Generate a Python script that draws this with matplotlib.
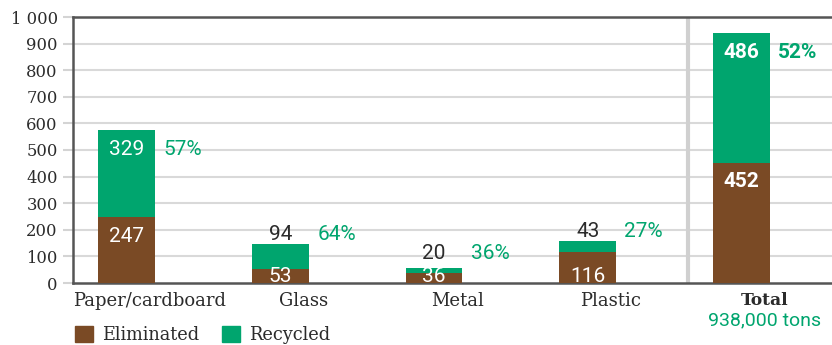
import matplotlib
matplotlib.use("Agg")
import matplotlib.pyplot as plt
import numpy as np
from matplotlib.patches import Patch

categories = ["Paper/cardboard", "Glass", "Metal", "Plastic", "Total"]
eliminated = [247, 53, 36, 116, 452]
recycled = [329, 94, 20, 43, 486]
pct_labels = ["57%", "64%", "36%", "27%", "52%"]
yticks = [0, 100, 200, 300, 400, 500, 600, 700, 800, 900, 1000]
ytick_labels = ["0", "100", "200", "300", "400", "500", "600", "700", "800", "900", "1 000"]
total_note = "938,000 tons"

BROWN = "#7A4A25"
GREEN = "#00A56E"
DARK = "#2b2b2b"
SERIF = ["DejaVu Serif"]
SANS = ["Roboto", "DejaVu Sans"]
NUM_FS = 15
LBL_SHIFT = 0.15  # category labels sit a bit right of the bar centres

fig = plt.figure(figsize=(8.32, 3.45), dpi=100)
ax = fig.add_axes([73 / 832, 1 - 283 / 345, (832 - 73) / 832, (283 - 17) / 345])

x = np.arange(len(categories))
w = 0.37
ax.bar(x, eliminated, w, color=BROWN, zorder=3)
ax.bar(x, recycled, w, bottom=eliminated, color=GREEN, zorder=3)

ax.set_xlim(-0.35, 4.59)
ax.set_ylim(0, 1000)
ax.set_yticks(yticks)
ax.set_yticklabels(ytick_labels, family=SERIF, fontsize=11.8, color=DARK)
ax.set_xticks([])
ax.tick_params(axis="y", length=7, color="#d4d4d4", width=1.5, pad=4)
for v in yticks[1:-1]:
    ax.axhline(v, color="#d9d9d9", lw=1.5, zorder=1)
ax.spines["right"].set_visible(False)
for s in ["left", "bottom", "top"]:
    ax.spines[s].set_color("#555555")
    ax.spines[s].set_linewidth(1.8)
ax.spines["top"].set_zorder(4)

# separator before Total
ax.axvline(3.655, color="#d0d0d0", lw=3, zorder=2)

xt = ax.get_xaxis_transform()
for i, name in enumerate(categories):
    ax.text(i + LBL_SHIFT, -0.035, name, transform=xt, ha="center", va="top",
            family=SERIF, fontsize=13 if i < 4 else 12.3,
            fontweight="bold" if i == 4 else "normal", color=DARK)
ax.text(4 + LBL_SHIFT, -0.105, total_note, transform=xt, ha="center", va="top",
        family=SANS, fontsize=14, color=GREEN)

for i, (e, r, p) in enumerate(zip(eliminated, recycled, pct_labels)):
    top = e + r
    bold = "bold" if i == 4 else "normal"
    if r >= 100:
        anchor, off, va, col = top, -7, "top", "white"
    else:
        anchor, off, va, col = max(top, 75), 3, "baseline", DARK
    ax.annotate(str(r), (i, anchor), xytext=(0, off), textcoords="offset points",
                ha="center", va=va, color=col, fontsize=NUM_FS, family=SANS,
                fontweight=bold, zorder=5)
    ax.annotate(p, (i + w / 2, anchor), xytext=(6, off), textcoords="offset points",
                ha="left", va=va, color=GREEN, fontsize=NUM_FS, family=SANS,
                fontweight=bold, zorder=5)
    if e >= 150:
        ax.annotate(str(e), (i, e), xytext=(0, -7), textcoords="offset points",
                    ha="center", va="top", color="white", fontsize=NUM_FS, family=SANS,
                    fontweight=bold, zorder=5)
    else:
        ax.annotate(str(e), (i, 0), xytext=(0, 0.5), textcoords="offset points",
                    ha="center", va="baseline", color="white", fontsize=NUM_FS, family=SANS, zorder=5)

handles = [Patch(color=BROWN, label="Eliminated"), Patch(color=GREEN, label="Recycled")]
leg = fig.legend(handles=handles, loc="lower left", bbox_to_anchor=(75 / 832, 1 / 345), ncol=2,
                 frameon=False, prop={"family": SERIF, "size": 12.8},
                 borderpad=0, borderaxespad=0,
                 handlelength=1.0, handleheight=1.0, handletextpad=0.5, columnspacing=1.3)
for t in leg.get_texts():
    t.set_color(DARK)

fig.savefig("out.png", dpi=100, facecolor="white")
